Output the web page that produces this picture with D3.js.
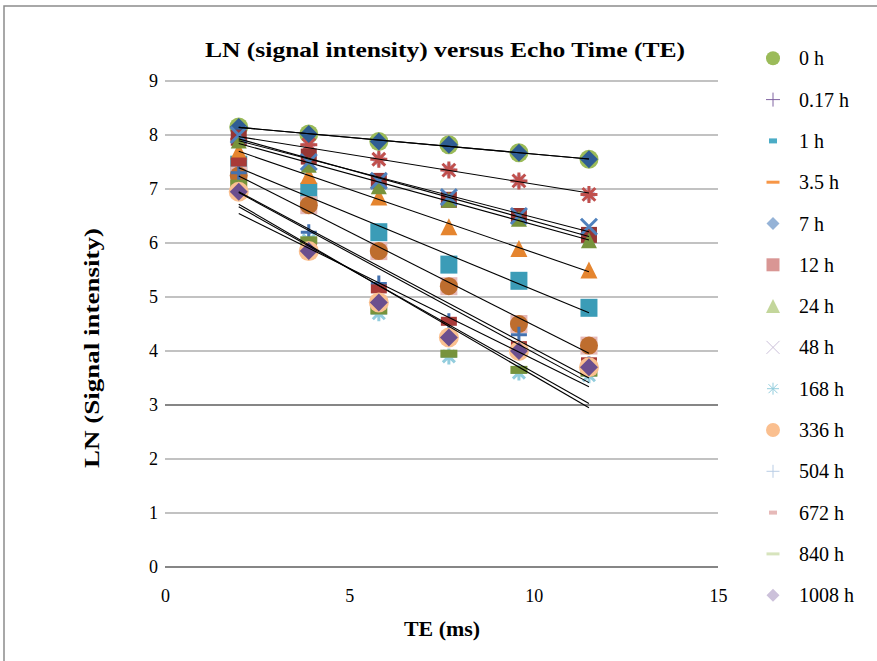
<!DOCTYPE html>
<html>
<head>
<meta charset="utf-8">
<script src="https://cdn.jsdelivr.net/npm/d3@7"></script>
<style>
  body { margin: 0; background: #fff; }
  text { font-family: "Liberation Serif", "Times New Roman", serif; fill: #000; }
</style>
</head>
<body>
<svg id="chart" width="877" height="661"></svg>
<script>
// echo times (ms)
const teValues = [2, 3.9, 5.8, 7.7, 9.6, 11.5];

const seriesNames = ["0 h", "0.17 h", "1 h", "3.5 h", "7 h", "12 h", "24 h",
                     "48 h", "168 h", "336 h", "504 h", "672 h", "840 h", "1008 h"];

// LN(signal intensity) per series
const ln0h    = [8.15, 8.02, 7.88, 7.82, 7.67, 7.55];
const ln017h  = [7.92, 7.82, 7.55, 7.35, 7.15, 6.90];
const ln1h    = [7.45, 6.95, 6.20, 5.60, 5.30, 4.80];
const ln35h   = [7.70, 7.25, 6.85, 6.30, 5.90, 5.50];
const ln7h    = [8.15, 8.02, 7.88, 7.82, 7.67, 7.55];
const ln12h   = [7.95, 7.60, 7.15, 6.80, 6.50, 6.15];
const ln24h   = [7.90, 7.45, 7.05, 6.80, 6.45, 6.05];
const ln48h   = [8.00, 7.50, 7.15, 6.85, 6.50, 6.30];
const ln168h  = [7.20, 6.05, 4.70, 3.90, 3.60, 3.55];
const ln336h  = [7.25, 6.70, 5.85, 5.20, 4.50, 4.10];
const ln504h  = [7.30, 6.20, 5.25, 4.55, 4.30, 3.75];
const ln672h  = [7.50, 5.95, 5.15, 4.55, 4.10, 3.80];
const ln840h  = [7.10, 6.05, 4.75, 3.95, 3.65, 3.60];
const ln1008h = [6.95, 5.85, 4.90, 4.25, 4.00, 3.70];

const seriesValues = [ln0h, ln017h, ln1h, ln35h, ln7h, ln12h, ln24h,
                      ln48h, ln168h, ln336h, ln504h, ln672h, ln840h, ln1008h];

const yTicks = [0, 1, 2, 3, 4, 5, 6, 7, 8, 9];
const xTicks = [0, 5, 10, 15];

// marker looks inside the plot
const plotStyles = [
  {shape: "circle", size: 19, fill: "#9BBB59"},
  {shape: "star", size: 17, stroke: "#C0504D", halo: {shape: "diamond", size: 16, fill: "#CCC1DA"}},
  {shape: "rect", w: 17, h: 18, fill: "#3B9CB7"},
  {shape: "triangle", size: 17, fill: "#E5852F"},
  {shape: "diamond", size: 18, fill: "#2F5D93"},
  {shape: "rect", w: 16, h: 16, fill: "#963634"},
  {shape: "triangle", size: 16, fill: "#77933C"},
  {shape: "cross", size: 16, stroke: "#4F81BD"},
  {shape: "star", size: 16, stroke: "#93CDDD"},
  {shape: "circle", size: 18, fill: "#BE6D2E", halo: {shape: "rect", w: 17, h: 18, fill: "#E6B9B8"}},
  {shape: "plus", size: 16, stroke: "#4472B0"},
  {shape: "rect", w: 16, h: 9, fill: "#A83A37"},
  {shape: "rect", w: 17, h: 8, fill: "#77933C"},
  {shape: "diamond", size: 18, fill: "#6B4F8E", halo: {shape: "circle", size: 20, fill: "#FAC090"}}
];

// marker looks in the legend
const legendStyles = [
  {shape: "circle", size: 14, fill: "#9BBB59"},
  {shape: "plus", size: 14, stroke: "#8064A2", sw: 1},
  {shape: "rect", w: 8, h: 5, fill: "#4BACC6"},
  {shape: "rect", w: 13, h: 3, fill: "#F79646"},
  {shape: "diamond", size: 13, fill: "#95B3D7"},
  {shape: "rect", w: 13, h: 13, fill: "#D99694"},
  {shape: "triangle", size: 14, fill: "#C3D69B"},
  {shape: "cross", size: 13, stroke: "#CCC1DA", sw: 1},
  {shape: "star", size: 12, stroke: "#93CDDD", sw: 1},
  {shape: "circle", size: 14, fill: "#FABF8F"},
  {shape: "plus", size: 13, stroke: "#B9CDE5", sw: 1},
  {shape: "rect", w: 8, h: 4, fill: "#E6B9B8"},
  {shape: "rect", w: 13, h: 3, fill: "#D7E4BD"},
  {shape: "diamond", size: 13, fill: "#CCC1DA"}
];

function markerPath(st) {
  const s = st.size / 2;
  switch (st.shape) {
    case "circle": {
      const p = d3.path(); p.arc(0, 0, s, 0, 2 * Math.PI); return p.toString();
    }
    case "diamond": return `M0,${-s}L${s},0L0,${s}L${-s},0Z`;
    case "triangle": return `M0,${-s}L${s},${s}L${-s},${s}Z`;
    case "rect": return `M${-st.w / 2},${-st.h / 2}h${st.w}v${st.h}h${-st.w}Z`;
    case "plus": return `M${-s},0H${s}M0,${-s}V${s}`;
    case "cross": return `M${-s},${-s}L${s},${s}M${s},${-s}L${-s},${s}`;
    case "star": {
      const k = s * 0.75;
      return `M0,${-s}V${s}M${-s},0H${s}M${-k},${-k}L${k},${k}M${k},${-k}L${-k},${k}`;
    }
  }
}

function drawMarker(sel, st) {
  const lined = ["plus", "cross", "star"].includes(st.shape);
  sel.append("path")
    .attr("d", markerPath(st))
    .attr("fill", lined ? "none" : st.fill)
    .attr("stroke", lined ? st.stroke : "none")
    .attr("stroke-width", lined ? (st.sw || 3) : 0);
}

const svg = d3.select("#chart");

// chart area border
svg.append("path")
  .attr("d", "M4,661V6H877")
  .attr("fill", "none")
  .attr("stroke", "#8c8c8c")
  .attr("stroke-width", 1.5);

const x = d3.scaleLinear().domain([0, 15]).range([165, 718]);
const y = d3.scaleLinear().domain([0, 9]).range([567, 81]);

// gridlines
svg.append("g")
  .selectAll("line")
  .data(yTicks)
  .join("line")
  .attr("x1", x(0)).attr("x2", x(15))
  .attr("y1", d => y(d)).attr("y2", d => y(d))
  .attr("stroke", "#868686")
  .attr("stroke-width", d => d === 3 || d === 0 ? 2 : 1.2);

// axes (labels only)
const yAxis = svg.append("g")
  .attr("transform", `translate(${x(0)},0)`)
  .call(d3.axisLeft(y).tickValues(yTicks).tickSize(0).tickPadding(7).tickFormat(d3.format("d")));
const xAxis = svg.append("g")
  .attr("transform", `translate(0,${y(0)})`)
  .call(d3.axisBottom(x).tickValues(xTicks).tickSize(0).tickPadding(22).tickFormat(d3.format("d")));
[yAxis, xAxis].forEach(a => {
  a.select(".domain").remove();
  a.selectAll("text").style("font-family", "Liberation Serif").style("font-size", "18px").attr("fill", "#000");
});

// markers
const plot = svg.append("g");
seriesValues.forEach((vals, i) => {
  const st = plotStyles[i];
  vals.forEach((v, j) => {
    const g = plot.append("g").attr("transform", `translate(${x(teValues[j])},${y(v)})`);
    if (st.halo) drawMarker(g, st.halo);
    drawMarker(g, st);
  });
});

// linear trendlines
const trend = svg.append("g");
seriesValues.forEach(vals => {
  const n = teValues.length;
  const mx = d3.mean(teValues), my = d3.mean(vals);
  let sxy = 0, sxx = 0;
  for (let j = 0; j < n; j++) {
    sxy += (teValues[j] - mx) * (vals[j] - my);
    sxx += (teValues[j] - mx) ** 2;
  }
  const b = sxy / sxx, a = my - b * mx;
  const x0 = d3.min(teValues), x1 = d3.max(teValues);
  trend.append("line")
    .attr("x1", x(x0)).attr("y1", y(a + b * x0))
    .attr("x2", x(x1)).attr("y2", y(a + b * x1))
    .attr("stroke", "#000")
    .attr("stroke-width", 1.1);
});

// titles
svg.append("text")
  .attr("x", 445).attr("y", 57)
  .attr("text-anchor", "middle")
  .attr("textLength", 480).attr("lengthAdjust", "spacingAndGlyphs")
  .style("font-size", "22px").style("font-weight", "bold")
  .text("LN (signal intensity) versus Echo Time (TE)");

svg.append("text")
  .attr("x", 442).attr("y", 636)
  .attr("text-anchor", "middle")
  .attr("textLength", 76).attr("lengthAdjust", "spacingAndGlyphs")
  .style("font-size", "20px").style("font-weight", "bold")
  .text("TE (ms)");

svg.append("text")
  .attr("transform", "translate(99,348) rotate(-90)")
  .attr("text-anchor", "middle")
  .attr("textLength", 240).attr("lengthAdjust", "spacingAndGlyphs")
  .style("font-size", "20px").style("font-weight", "bold")
  .text("LN (Signal intensity)");

// legend
const legend = svg.append("g")
  .selectAll("g")
  .data(seriesNames)
  .join("g")
  .attr("transform", (d, i) => `translate(773,${58.3 + i * 41.3})`);

legend.each(function (d, i) { drawMarker(d3.select(this), legendStyles[i]); });

legend.append("text")
  .attr("x", 26).attr("y", 7)
  .style("font-size", "20px")
  .text(d => d);
</script>
</body>
</html>
